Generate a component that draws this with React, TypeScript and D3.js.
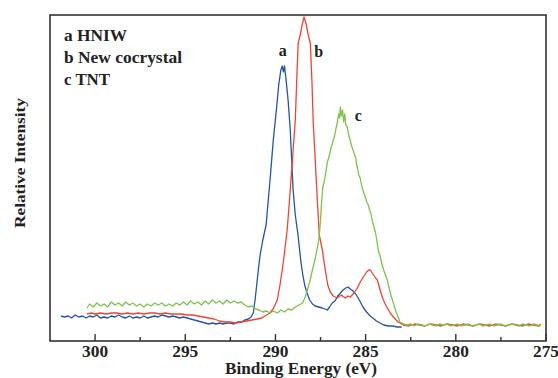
import React from "react";
import * as d3 from "d3";

// Binding energy (eV), relative intensity (a.u.)
const hniw: [number, number][] = [
  [301.9, 24], [301.7, 23], [301.5, 24], [301.3, 22], [301.1, 25], [300.9, 23], [300.7, 24], [300.5, 22],
  [300.3, 24], [300.1, 23], [299.9, 25], [299.7, 22], [299.5, 23], [299.3, 22], [299.1, 24], [298.9, 23],
  [298.7, 25], [298.5, 23], [298.3, 22], [298.1, 24], [297.9, 22], [297.7, 23], [297.5, 22], [297.3, 24],
  [297.1, 22], [296.9, 23], [296.7, 24], [296.5, 23], [296.3, 25], [296.1, 24], [295.9, 23], [295.7, 24],
  [295.5, 23], [295.3, 22], [295.1, 23], [294.9, 22], [294.7, 21], [294.5, 20], [294.3, 19], [294.1, 18],
  [293.9, 17], [293.7, 16], [293.5, 17], [293.3, 16], [293.1, 17], [292.9, 16], [292.7, 17], [292.5, 17],
  [292.3, 16], [292.1, 18], [291.9, 18], [291.7, 20], [291.5, 21], [291.35, 23], [291.23, 27], [291.13, 40],
  [290.95, 70], [290.85, 85], [290.7, 100], [290.52, 115], [290.3, 160], [290.12, 200], [289.95, 230],
  [289.82, 255], [289.7, 270], [289.62, 274], [289.56, 268], [289.5, 274], [289.42, 262], [289.3, 240],
  [289.18, 210], [289.02, 150], [288.9, 125], [288.75, 105], [288.6, 80], [288.5, 67], [288.38, 55],
  [288.25, 47], [288.1, 40], [287.95, 36], [287.8, 34], [287.6, 33], [287.4, 32], [287.25, 31], [287.13, 30],
  [287.0, 33], [286.85, 37], [286.7, 39], [286.55, 44], [286.4, 47], [286.25, 50], [286.1, 52], [285.98, 53],
  [285.85, 51], [285.7, 49], [285.55, 46], [285.35, 40], [285.15, 33], [284.95, 28], [284.75, 24],
  [284.6, 22], [284.4, 19], [284.2, 17], [284.0, 15], [283.75, 14], [283.5, 14], [283.25, 13], [283.0, 13],
];

const cocrystal: [number, number][] = [
  [300.45, 26], [300.2, 27], [300.0, 26], [299.7, 27], [299.4, 26], [299.1, 27], [298.8, 27], [298.5, 26],
  [298.2, 27], [297.9, 26], [297.6, 27], [297.3, 26], [297.0, 27], [296.7, 27], [296.4, 26], [296.1, 27],
  [295.8, 26], [295.5, 26], [295.2, 26], [294.9, 25], [294.6, 25], [294.3, 24], [294.0, 23], [293.7, 22],
  [293.4, 21], [293.1, 19], [292.8, 18], [292.5, 18], [292.2, 17], [291.9, 18], [291.6, 19], [291.3, 20],
  [291.0, 21], [290.75, 22], [290.5, 25], [290.3, 27], [290.1, 32], [289.9, 40], [289.75, 55], [289.57, 77],
  [289.45, 95], [289.35, 110], [289.2, 145], [289.1, 170], [288.98, 200], [288.9, 220], [288.8, 270],
  [288.74, 297], [288.63, 305], [288.52, 315], [288.42, 323], [288.3, 316], [288.18, 305], [288.07, 297],
  [287.98, 260], [287.9, 215], [287.78, 175], [287.68, 140], [287.57, 105], [287.4, 90], [287.24, 70],
  [287.1, 55], [286.96, 48], [286.8, 44], [286.57, 42], [286.35, 45], [286.13, 42], [285.98, 44],
  [285.85, 43], [285.65, 47], [285.46, 52], [285.3, 58], [285.13, 63], [284.95, 68], [284.82, 70],
  [284.74, 70], [284.6, 66], [284.45, 62], [284.35, 60], [284.2, 50], [284.02, 40], [283.8, 32],
  [283.6, 26], [283.46, 23], [283.2, 18], [282.91, 15], [282.6, 14], [282.3, 16], [282.0, 15], [281.7, 14],
  [281.4, 16], [281.1, 15], [280.8, 14], [280.5, 16], [280.2, 15], [279.9, 14], [279.6, 16], [279.3, 15],
  [279.0, 14], [278.7, 16], [278.4, 15], [278.1, 14], [277.8, 16], [277.5, 15], [277.2, 14], [276.9, 16],
  [276.6, 15], [276.3, 14], [276.0, 16], [275.7, 15], [275.4, 14], [275.3, 16],
];

const tnt: [number, number][] = [
  [300.45, 32], [300.3, 36], [300.1, 33], [299.9, 37], [299.7, 34], [299.5, 36], [299.3, 33], [299.1, 38],
  [298.9, 35], [298.7, 37], [298.5, 34], [298.3, 38], [298.1, 35], [297.9, 37], [297.7, 34], [297.5, 36],
  [297.3, 33], [297.1, 36], [296.9, 34], [296.7, 37], [296.5, 35], [296.3, 37], [296.1, 34], [295.9, 36],
  [295.7, 34], [295.5, 37], [295.3, 35], [295.1, 38], [294.9, 35], [294.7, 39], [294.5, 36], [294.3, 38],
  [294.1, 35], [293.9, 39], [293.7, 36], [293.5, 40], [293.3, 37], [293.1, 39], [292.9, 36], [292.7, 40],
  [292.5, 37], [292.3, 39], [292.1, 37], [291.9, 38], [291.7, 35], [291.5, 33], [291.3, 34], [291.1, 31],
  [290.9, 30], [290.7, 28], [290.5, 29], [290.3, 27], [290.1, 29], [289.9, 27], [289.7, 30], [289.5, 28],
  [289.3, 31], [289.1, 30], [288.9, 33], [288.7, 35], [288.5, 37], [288.35, 43], [288.2, 52], [288.1, 58],
  [287.95, 70], [287.82, 80], [287.7, 90], [287.6, 100], [287.52, 115], [287.45, 135], [287.38, 152],
  [287.3, 158], [287.22, 166], [287.12, 178], [287.02, 184], [286.92, 192], [286.82, 198], [286.72, 204],
  [286.64, 212], [286.56, 218], [286.5, 226], [286.44, 222], [286.4, 233], [286.34, 224], [286.28, 230],
  [286.22, 218], [286.16, 226], [286.1, 215], [286.02, 213], [285.94, 205], [285.86, 200], [285.78, 194],
  [285.7, 190], [285.62, 186], [285.55, 182], [285.5, 175], [285.45, 172], [285.38, 165], [285.3, 162],
  [285.22, 154], [285.15, 150], [285.08, 146], [285.0, 142], [284.92, 137], [284.85, 135], [284.78, 130],
  [284.7, 126], [284.62, 118], [284.55, 114], [284.45, 107], [284.38, 100], [284.3, 90], [284.2, 84],
  [284.1, 76], [284.0, 70], [283.9, 65], [283.8, 60], [283.7, 52], [283.6, 45], [283.48, 38], [283.35, 30],
  [283.22, 24], [283.1, 18], [282.9, 16], [282.7, 15], [282.5, 16], [282.3, 14], [282.1, 16], [281.9, 15],
  [281.7, 14], [281.5, 16], [281.3, 15], [281.1, 14], [280.9, 16], [280.7, 15], [280.5, 16], [280.3, 14],
  [280.1, 15], [279.9, 16], [279.7, 14], [279.5, 15], [279.3, 16], [279.1, 14], [278.9, 15], [278.7, 16],
  [278.5, 14], [278.3, 15], [278.1, 16], [277.9, 14], [277.7, 15], [277.5, 16], [277.3, 14], [277.1, 15],
  [276.9, 16], [276.7, 15], [276.5, 14], [276.3, 16], [276.1, 15], [275.9, 14], [275.7, 16], [275.5, 15],
  [275.3, 14],
];

const majorTicks = [300, 295, 290, 285, 280, 275];
const minorTicks = [297.5, 292.5, 287.5, 282.5, 277.5];
const legendLines = ["a HNIW", "b New cocrystal", "c TNT"];
const legendWidths = [63, 118, 46];
const peakLabels: { text: string; e: number; i: number }[] = [
  { text: "a", e: 289.6, i: 284 },
  { text: "b", e: 287.6, i: 283 },
  { text: "c", e: 285.4, i: 219 },
];

const W = 558;
const H = 378;
const left = 50, right = 546, top = 15, bottom = 341;
const font = "'Liberation Serif', 'Times New Roman', serif";

export default function App() {
  const x = d3.scaleLinear().domain([302.5, 275]).range([left, right]);
  const y = d3.scaleLinear().domain([0, 325]).range([340, 15]);
  const line = d3
    .line<[number, number]>()
    .x((d) => x(d[0]))
    .y((d) => y(d[1]));

  const series = [
    { data: hniw, color: "#2255a4" },
    { data: cocrystal, color: "#ec4630" },
    { data: tnt, color: "#7cc24c" },
  ];

  return (
    <svg width={W} height={H} style={{ position: "absolute", left: 0, top: 0, background: "#fff" }}>
      <rect x={0} y={0} width={W} height={H} fill="#fff" />
      {series.map((s, k) => (
        <path key={k} d={line(s.data) || ""} fill="none" stroke={s.color} strokeWidth={1.3} strokeLinejoin="round" />
      ))}
      <rect x={left} y={top} width={right - left} height={bottom - top} fill="none" stroke="#333" strokeWidth={1.6} />
      {majorTicks.map((t) => (
        <g key={t}>
          <line x1={x(t)} x2={x(t)} y1={bottom} y2={bottom - 7} stroke="#333" strokeWidth={1.4} />
          <text x={x(t)} y={357} textAnchor="middle" fontFamily={font} fontWeight="bold" fontSize={16} textLength={26} lengthAdjust="spacingAndGlyphs" fill="#222">
            {t}
          </text>
        </g>
      ))}
      {minorTicks.map((t) => (
        <line key={t} x1={x(t)} x2={x(t)} y1={bottom} y2={bottom - 4} stroke="#333" strokeWidth={1.4} />
      ))}
      <text x={301} y={374} textAnchor="middle" fontFamily={font} fontWeight="bold" fontSize={16} textLength={152} lengthAdjust="spacingAndGlyphs" fill="#222">
        Binding Energy (eV)
      </text>
      <text
        transform="translate(25,163) rotate(-90)"
        textAnchor="middle"
        fontFamily={font}
        fontWeight="bold"
        fontSize={15}
        textLength={130}
        lengthAdjust="spacingAndGlyphs"
        fill="#222"
      >
        Relative Intensity
      </text>
      {legendLines.map((t, k) => (
        <text key={t} x={64} y={41 + k * 22} fontFamily={font} fontWeight="bold" fontSize={16} textLength={legendWidths[k]} lengthAdjust="spacingAndGlyphs" fill="#222">
          {t}
        </text>
      ))}
      {peakLabels.map((p) => (
        <text key={p.text} x={x(p.e)} y={y(p.i)} textAnchor="middle" fontFamily={font} fontWeight="bold" fontSize={16} fill="#222">
          {p.text}
        </text>
      ))}
    </svg>
  );
}
